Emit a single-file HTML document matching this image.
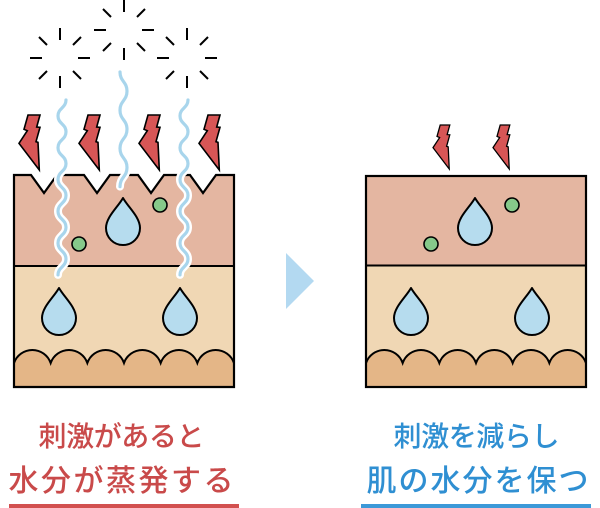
<!DOCTYPE html>
<html><head><meta charset="utf-8"><style>
html,body{margin:0;padding:0;background:#fff;}
svg{display:block;}
text{font-family:"Liberation Sans","Noto Sans CJK JP",sans-serif;font-weight:500;}
</style></head><body>
<svg width="600" height="508" viewBox="0 0 600 508" xmlns="http://www.w3.org/2000/svg">
<defs>
<polygon id="bolt" points="14,5 26,5 22.7,17 26,17.3 22,31.7 24,32.3 25.3,60 5,33.3 13.3,20.7 10,19.3" fill="#d75656" stroke="#000" stroke-width="1.6" stroke-linejoin="miter"/>
</defs>

<!-- sparkles -->
<g stroke="#000" stroke-width="2" stroke-linecap="butt" fill="none">
<path d="M60,28V40M60,76V88M30,58H42M78,58H90M39,37L47,45M81,37L73,45M39,79L47,71M81,79L73,71"/>
<path d="M124,0V12M124,48V60M94,30H106M142,30H154M103,9L111,17M145,9L137,17M103,51L111,43M145,51L137,43"/>
<path d="M187,28V40M187,76V88M157,58H169M205,58H217M166,37L174,45M208,37L200,45M166,79L174,71M208,79L200,71"/>
</g>

<!-- bolts left -->
<use href="#bolt" transform="translate(14,110)"/>
<use href="#bolt" transform="translate(74,110)"/>
<use href="#bolt" transform="translate(134,110)"/>
<use href="#bolt" transform="translate(194,110)"/>
<!-- bolts right -->
<use href="#bolt" transform="translate(429,121) scale(0.8)"/>
<use href="#bolt" transform="translate(489,121) scale(0.8)"/>

<!-- LEFT PANEL -->
<path d="M14,175 H31 L44,193 L57,175 H84 L97,193 L110,175 H138 L151,193 L164,175 H190 L203,193 L216,175 H234 V266 H14 Z" fill="#e4b6a1"/>
<rect x="14" y="266" width="220" height="121" fill="#f0d7b4"/>
<path d="M14,387 V363 A19.4,19.4 0 0 1 50.67,363 A19.4,19.4 0 0 1 87.33,363 A19.4,19.4 0 0 1 124,363 A19.4,19.4 0 0 1 160.67,363 A19.4,19.4 0 0 1 197.33,363 A19.4,19.4 0 0 1 234,363 V387 Z" fill="#e4b687" stroke="#000" stroke-width="2"/>
<path d="M14,266 H234" stroke="#000" stroke-width="2"/>
<path d="M14,387 V175 H31 L44,193 L57,175 H84 L97,193 L110,175 H138 L151,193 L164,175 H190 L203,193 L216,175 H234 V387 Z" fill="none" stroke="#000" stroke-width="2.2"/>

<!-- wavy lines -->
<g fill="none" stroke-linecap="round">
<g stroke="#fff" stroke-width="8">
<path d="M66,100 C66,107.95 58,107.95 58,115.9 S66,123.85 66,131.8 S58,139.75 58,147.7 S66,155.65 66,163.6 S58,171.55 58,179.5 S66,187.45 66,195.4 S58,203.35 58,211.3 S66,219.25 66,227.2 S58,235.15 58,243.1 S66,251.05 66,259 S58,266.95 58,274.9"/>
<path d="M120,72 C120,81.55 127,81.55 127,91.1 S120,100.65 120,110.2 S127,119.75 127,129.3 S120,138.85 120,148.4 S127,157.95 127,167.5 S120,177.05 120,186.6"/>
<path d="M188,100 C188,107.95 180,107.95 180,115.9 S188,123.85 188,131.8 S180,139.75 180,147.7 S188,155.65 188,163.6 S180,171.55 180,179.5 S188,187.45 188,195.4 S180,203.35 180,211.3 S188,219.25 188,227.2 S180,235.15 180,243.1 S188,251.05 188,259 S180,266.95 180,274.9"/>
</g>
<g stroke="#a8d5ec" stroke-width="3.2">
<path d="M66,100 C66,107.95 58,107.95 58,115.9 S66,123.85 66,131.8 S58,139.75 58,147.7 S66,155.65 66,163.6 S58,171.55 58,179.5 S66,187.45 66,195.4 S58,203.35 58,211.3 S66,219.25 66,227.2 S58,235.15 58,243.1 S66,251.05 66,259 S58,266.95 58,274.9"/>
<path d="M120,72 C120,81.55 127,81.55 127,91.1 S120,100.65 120,110.2 S127,119.75 127,129.3 S120,138.85 120,148.4 S127,157.95 127,167.5 S120,177.05 120,186.6"/>
<path d="M188,100 C188,107.95 180,107.95 180,115.9 S188,123.85 188,131.8 S180,139.75 180,147.7 S188,155.65 188,163.6 S180,171.55 180,179.5 S188,187.45 188,195.4 S180,203.35 180,211.3 S188,219.25 188,227.2 S180,235.15 180,243.1 S188,251.05 188,259 S180,266.95 180,274.9"/>
</g>
</g>

<!-- left drops & dots -->
<g fill="#b6dcee" stroke="#000" stroke-width="2" stroke-linejoin="round">
<path d="M123,198 C128,207 140,217 140,228 A17,17 0 0 1 106,228 C106,217 118,207 123,198 Z"/>
<path d="M59,288 C64,297 76,307 76,318 A17,17 0 0 1 42,318 C42,307 54,297 59,288 Z"/>
<path d="M180,288 C185,297 197,307 197,318 A17,17 0 0 1 163,318 C163,307 175,297 180,288 Z"/>
</g>
<g fill="#86c98a" stroke="#000" stroke-width="1.6">
<circle cx="160" cy="205" r="7"/>
<circle cx="79" cy="244" r="7"/>
</g>

<!-- arrow -->
<polygon points="286,253 314,281 286,309" fill="#b3d9f1"/>

<!-- RIGHT PANEL -->
<rect x="366" y="176" width="220" height="89.5" fill="#e4b6a1"/>
<rect x="366" y="265.5" width="220" height="121.5" fill="#f0d7b4"/>
<path d="M366,387 V363 A19.4,19.4 0 0 1 402.67,363 A19.4,19.4 0 0 1 439.33,363 A19.4,19.4 0 0 1 476,363 A19.4,19.4 0 0 1 512.67,363 A19.4,19.4 0 0 1 549.33,363 A19.4,19.4 0 0 1 586,363 V387 Z" fill="#e4b687" stroke="#000" stroke-width="2"/>
<path d="M366,265.5 H586" stroke="#000" stroke-width="2"/>
<rect x="366" y="176" width="220" height="211" fill="none" stroke="#000" stroke-width="2.2"/>
<g fill="#b6dcee" stroke="#000" stroke-width="2" stroke-linejoin="round">
<path d="M475,198 C480,207 492,217 492,228 A17,17 0 0 1 458,228 C458,217 470,207 475,198 Z"/>
<path d="M411,288 C416,297 428,307 428,318 A17,17 0 0 1 394,318 C394,307 406,297 411,288 Z"/>
<path d="M532,288 C537,297 549,307 549,318 A17,17 0 0 1 515,318 C515,307 527,297 532,288 Z"/>
</g>
<g fill="#86c98a" stroke="#000" stroke-width="1.6">
<circle cx="512" cy="205" r="7"/>
<circle cx="431" cy="244" r="7"/>
</g>

<!-- texts -->
<text x="38.5" y="446" font-size="28" fill="#c94a4a" textLength="166" lengthAdjust="spacing">刺激があると</text>
<text x="8.5" y="491" font-size="30" fill="#c94a4a" textLength="225" lengthAdjust="spacing">水分が蒸発する</text>
<rect x="9" y="504" width="230" height="4" fill="#d2504f"/>

<text x="393.5" y="446" font-size="28" fill="#2f8fd2" textLength="166" lengthAdjust="spacing">刺激を減らし</text>
<text x="366.5" y="491" font-size="30" fill="#2f8fd2" textLength="222" lengthAdjust="spacing">肌の水分を保つ</text>
<rect x="361" y="504" width="230" height="4" fill="#3c99d8"/>
</svg>
</body></html>
